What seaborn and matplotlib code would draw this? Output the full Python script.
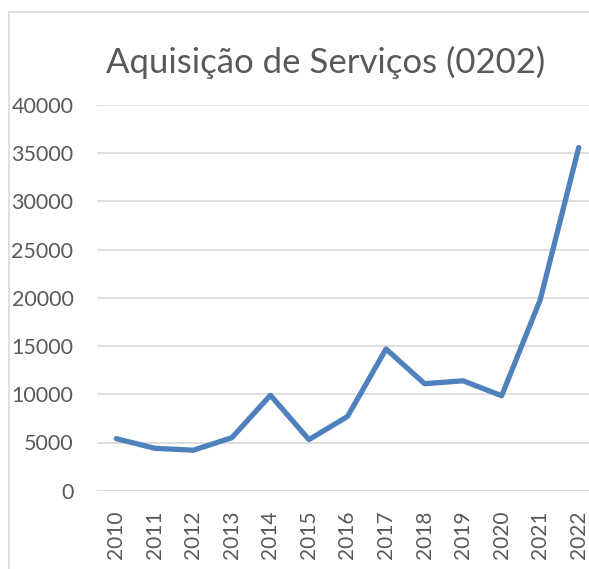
""" Line chart of service acquisition spending, 2010-2022 """

import pandas as pd
import seaborn as sns
import matplotlib.pyplot as plt
from matplotlib.patches import Rectangle

years = [2010, 2011, 2012, 2013, 2014, 2015, 2016, 2017, 2018, 2019, 2020, 2021, 2022]
values = [5400, 4400, 4200, 5500, 9900, 5300, 7700, 14700, 11100, 11400, 9850, 19800, 35600]
title = "Aquisição de Serviços (0202)"
y_ticks = [0, 5000, 10000, 15000, 20000, 25000, 30000, 35000, 40000]


def plot(df):
    """ Creates the line chart and saves it """
    fig = plt.figure(figsize=(5.89, 5.69), dpi=100)
    ax = fig.add_axes([97 / 589, 1 - 490.7 / 569, 501 / 589, 385.6 / 569])
    sns.lineplot(x="Ano", y="Valor", data=df, ax=ax, color="#4f81bd",
                 linewidth=3.8, solid_capstyle="round", solid_joinstyle="round")
    # Axes look like an Excel chart
    ax.set_xlim(2009.5, 2022.5)
    ax.set_ylim(0, 40000)
    ax.set_yticks(y_ticks)
    ax.set_yticklabels([str(v) for v in y_ticks])
    ax.set_xticks(years)
    ax.set_xticklabels([str(y) for y in years], rotation=90)
    ax.yaxis.grid(True, color="#d9d9d9", linewidth=1.2)
    ax.xaxis.grid(False)
    ax.set_axisbelow(True)
    for side in ["left", "right", "top", "bottom"]:
        ax.spines[side].set_visible(False)
    ax.tick_params(axis="y", length=0, pad=17, labelsize=15.5, labelcolor="#595959")
    ax.tick_params(axis="x", length=0, pad=14, labelsize=15, labelcolor="#595959")
    ax.set_xlabel("")
    ax.set_ylabel("")
    fig.text(326 / 589, 1 - 62 / 569, title, ha="center", va="center",
             fontsize=25, color="#595959")
    # Chart border (cropped on the right and bottom)
    fig.add_artist(Rectangle((9 / 589, -0.2), 2, (569 - 12) / 569 + 0.2,
                             transform=fig.transFigure, fill=False,
                             edgecolor="#d9d9d9", linewidth=1.2))
    fig.savefig("out.png", dpi=100)


if __name__ == "__main__":
    sns.set_style("white")
    plt.rcParams["font.family"] = ["Lato", "DejaVu Sans"]
    data = pd.DataFrame({"Ano": years, "Valor": values})
    plot(data)
